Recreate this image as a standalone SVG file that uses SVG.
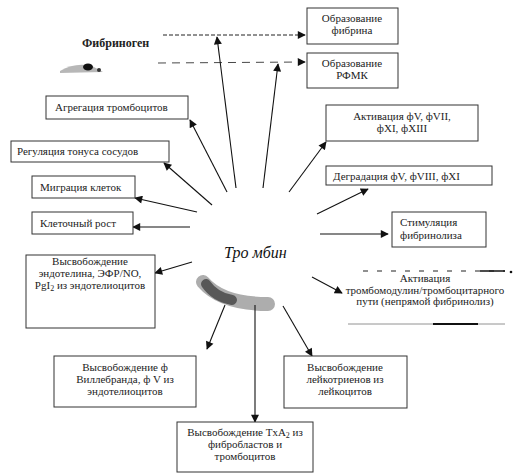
<svg xmlns="http://www.w3.org/2000/svg" width="519" height="475" viewBox="0 0 519 475">
<style>
.box{fill:#fff;stroke:#333;stroke-width:1}
.t{font-family:"Liberation Serif","Times New Roman",serif;font-size:11px;fill:#222}
.c{text-anchor:middle}
.ar{stroke:#111;stroke-width:1.1;fill:none;marker-end:url(#ah)}
.dash{stroke:#222;stroke-width:1;stroke-dasharray:4 2;fill:none}
</style>
<defs>
<marker id="ah" viewBox="0 0 10 10" refX="9" refY="5" markerWidth="9" markerHeight="8" markerUnits="userSpaceOnUse" orient="auto">
<path d="M0,0 L10,5 L0,10 z" fill="#111"/>
</marker>
</defs>
<rect width="519" height="475" fill="#fff"/>

<g id="smudges">
<path d="M203,282 Q222,304 268,304" stroke="#999" stroke-width="14" fill="none" stroke-linecap="round" opacity="0.8"/>
<path d="M206,284 Q215,297 232,300" stroke="#333" stroke-width="10" fill="none" stroke-linecap="round" opacity="0.7"/>
<path d="M60,71 Q75,62 92,66 Q100,70 103,72 L60,73 z" fill="#999" opacity="0.7"/>
<ellipse cx="88" cy="67" rx="5" ry="3.5" fill="#111"/>
<circle cx="99" cy="70" r="2" fill="#333"/>
</g>

<g id="connectors">
<line class="dash" x1="163" y1="35" x2="305" y2="35" marker-end="url(#ah)"/>
<line x1="158" y1="63" x2="305" y2="62" stroke="#333" stroke-width="0.9" stroke-dasharray="8 6" marker-end="url(#ah)"/>
<line class="ar" x1="236" y1="188" x2="217" y2="37"/>
<line class="ar" x1="263" y1="188" x2="278" y2="64"/>
<line class="ar" x1="227" y1="192" x2="190" y2="120"/>
<line class="ar" x1="212" y1="205" x2="164" y2="163"/>
<line class="ar" x1="197" y1="212" x2="135" y2="198"/>
<line class="ar" x1="190" y1="227" x2="133" y2="227"/>
<line class="ar" x1="289" y1="192" x2="326" y2="142"/>
<line class="ar" x1="317" y1="214" x2="368" y2="189"/>
<line class="ar" x1="320" y1="234" x2="388" y2="234"/>
<line class="ar" x1="312" y1="277" x2="342" y2="293"/>
<line class="ar" x1="283" y1="306" x2="312" y2="356"/>
<line class="ar" x1="192" y1="262" x2="155" y2="273"/>
<line class="ar" x1="225" y1="305" x2="207" y2="349"/>
<line class="ar" x1="255" y1="305" x2="255" y2="422"/>
</g>

<g id="thrombin">
<text x="224" y="258" font-family="'Liberation Serif','Times New Roman',serif" font-size="16" font-style="italic" fill="#111">Тро мбин</text>
</g>

<g id="fibrinogen">
<text x="82" y="47" font-family="'Liberation Serif','Times New Roman',serif" font-size="12" font-weight="bold" fill="#222">Фибриноген</text>
</g>

<g id="n-fibrin">
<rect class="box" x="307" y="8" width="91" height="36"/>
<text class="t c" x="352" y="22">Образование</text>
<text class="t c" x="352" y="34">фибрина</text>
</g>
<g id="n-rfmk">
<rect class="box" x="307" y="53" width="91" height="35"/>
<text class="t c" x="352" y="67">Образование</text>
<text class="t c" x="352" y="79">РФМК</text>
</g>
<g id="n-agreg">
<rect class="box" x="46" y="96" width="142" height="23"/>
<text class="t" x="55" y="111">Агрегация тромбоцитов</text>
</g>
<g id="n-regul">
<rect class="box" x="11" y="141" width="158" height="21"/>
<text class="t" x="17" y="155">Регуляция тонуса сосудов</text>
</g>
<g id="n-migr">
<rect class="box" x="32" y="176" width="103" height="22"/>
<text class="t" x="40" y="191">Миграция клеток</text>
</g>
<g id="n-rost">
<rect class="box" x="32" y="212" width="101" height="22"/>
<text class="t" x="40" y="227">Клеточный рост</text>
</g>
<g id="n-activ">
<rect class="box" x="326" y="105" width="152" height="36"/>
<text class="t c" x="402" y="120">Активация фV, фVII,</text>
<text class="t c" x="402" y="132">фXI, фXIII</text>
</g>
<g id="n-degr">
<rect class="box" x="326" y="166" width="166" height="19"/>
<text class="t" x="333" y="180">Деградация фV, фVIII, фXI</text>
</g>
<g id="n-stim">
<rect class="box" x="392" y="212" width="94" height="35"/>
<text class="t" x="400" y="226">Стимуляция</text>
<text class="t" x="400" y="239">фибринолиза</text>
</g>
<g id="n-trombomod">
<line x1="363" y1="271" x2="505" y2="271" stroke="#222" stroke-width="1.2" stroke-dasharray="5 9"/>
<line x1="480" y1="271" x2="505" y2="271" stroke="#111" stroke-width="1.5"/>
<circle cx="511" cy="272" r="1.3" fill="#111"/>
<text class="t c" x="425" y="282">Активация</text>
<text class="t c" x="425" y="294">тромбомодулин/тромбоцитарного</text>
<text class="t c" x="425" y="305">пути (непрямой фибринолиз)</text>
<line x1="348" y1="324" x2="505" y2="324" stroke="#777" stroke-width="0.8"/>
<line x1="433" y1="324" x2="478" y2="324" stroke="#111" stroke-width="2.2"/>
</g>
<g id="n-endotel">
<rect class="box" x="26" y="255" width="129" height="73"/>
<text class="t c" x="90" y="265">Высвобождение</text>
<text class="t c" x="90" y="277">эндотелина, ЭФР/NO,</text>
<text class="t c" x="90" y="289">PgI<tspan font-size="8" dy="2">2</tspan><tspan dy="-2"> из эндотелиоцитов</tspan></text>
</g>
<g id="n-willebrand">
<rect class="box" x="54" y="356" width="142" height="51"/>
<text class="t c" x="125" y="371">Высвобождение ф</text>
<text class="t c" x="125" y="383">Виллебранда, ф V из</text>
<text class="t c" x="125" y="395">эндотелиоцитов</text>
</g>
<g id="n-txa2">
<rect class="box" x="177" y="422" width="136" height="50"/>
<text class="t c" x="245" y="436">Высвобождение TxA<tspan font-size="8" dy="2">2</tspan><tspan dy="-2"> из</tspan></text>
<text class="t c" x="245" y="448">фибробластов и</text>
<text class="t c" x="245" y="460">тромбоцитов</text>
</g>
<g id="n-leuko">
<rect class="box" x="284" y="356" width="123" height="52"/>
<text class="t c" x="345" y="371">Высвобождение</text>
<text class="t c" x="345" y="383">лейкотриенов из</text>
<text class="t c" x="345" y="395">лейкоцитов</text>
</g>
</svg>
